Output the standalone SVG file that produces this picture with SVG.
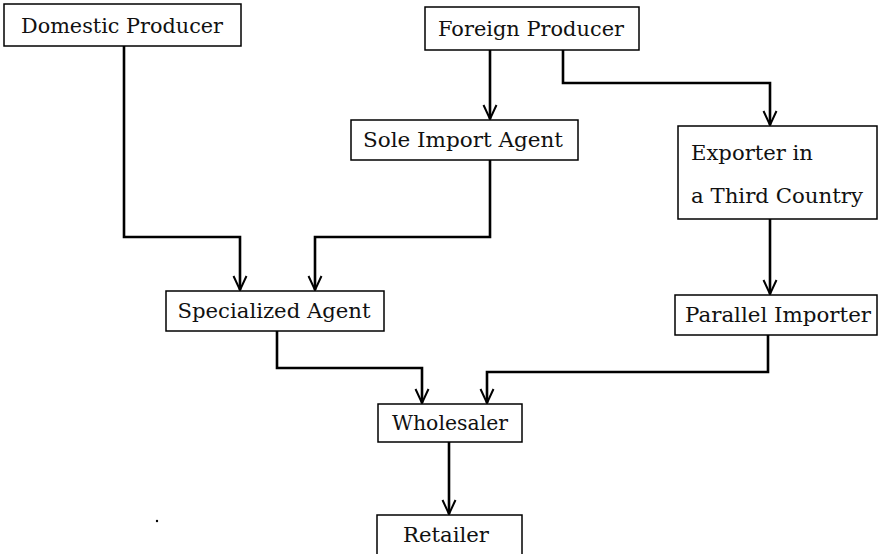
<svg xmlns="http://www.w3.org/2000/svg" width="879" height="554" viewBox="0 0 879 554">
<defs>
<marker id="arr" viewBox="-16 -9 18 18" refX="0" refY="0" markerWidth="18" markerHeight="18" markerUnits="userSpaceOnUse" orient="auto">
<path d="M-14,-6.5 L0,0 L-14,6.5" fill="none" stroke="#000" stroke-width="2"/>
</marker>
<style>
.box{fill:#fff;stroke:#000;stroke-width:1.5}
.t{font-family:"DejaVu Serif","Liberation Serif",serif;font-size:21px;fill:#111}
.c{text-anchor:middle}
.ln{fill:none;stroke:#000;stroke-width:2.6;marker-end:url(#arr)}
</style>
</defs>
<rect width="879" height="554" fill="#fff"/>
<g id="connectors">
<path class="ln" d="M124,46 V237 H240 V290"/>
<path class="ln" d="M490,160 V237 H315 V290"/>
<path class="ln" d="M490,50 V119"/>
<path class="ln" d="M563,50 V83 H770 V125"/>
<path class="ln" d="M770,219 V294"/>
<path class="ln" d="M277,331 V368 H422 V403"/>
<path class="ln" d="M768,335 V372 H487 V403"/>
<path class="ln" d="M449,442 V514"/>
</g>
<g id="domestic">
<rect class="box" x="4" y="4" width="237" height="42"/>
<text class="t c" x="122" y="33" textLength="202" lengthAdjust="spacingAndGlyphs">Domestic Producer</text>
</g>
<g id="foreign">
<rect class="box" x="425" y="7" width="214" height="43"/>
<text class="t c" x="531" y="36" textLength="186" lengthAdjust="spacingAndGlyphs">Foreign Producer</text>
</g>
<g id="sole">
<rect class="box" x="351" y="120" width="227" height="40"/>
<text class="t c" x="463" y="147" textLength="200" lengthAdjust="spacingAndGlyphs">Sole Import Agent</text>
</g>
<g id="exporter">
<rect class="box" x="678" y="126" width="199" height="93"/>
<text class="t" x="691" y="160" textLength="122" lengthAdjust="spacingAndGlyphs">Exporter in</text>
<text class="t" x="691" y="203" textLength="172" lengthAdjust="spacingAndGlyphs">a Third Country</text>
</g>
<g id="specialized">
<rect class="box" x="166" y="291" width="218" height="40"/>
<text class="t c" x="274" y="318" textLength="193" lengthAdjust="spacingAndGlyphs">Specialized Agent</text>
</g>
<g id="parallel">
<rect class="box" x="675" y="295" width="202" height="40"/>
<text class="t c" x="778" y="322" textLength="186" lengthAdjust="spacingAndGlyphs">Parallel Importer</text>
</g>
<g id="wholesaler">
<rect class="box" x="378" y="404" width="144" height="38"/>
<text class="t c" x="450" y="430" textLength="116" lengthAdjust="spacingAndGlyphs">Wholesaler</text>
</g>
<g id="retailer">
<rect class="box" x="377" y="515" width="145" height="45"/>
<text class="t c" x="446" y="542" textLength="86" lengthAdjust="spacingAndGlyphs">Retailer</text>
</g>
<circle cx="157" cy="521" r="1.2" fill="#000"/>
</svg>
